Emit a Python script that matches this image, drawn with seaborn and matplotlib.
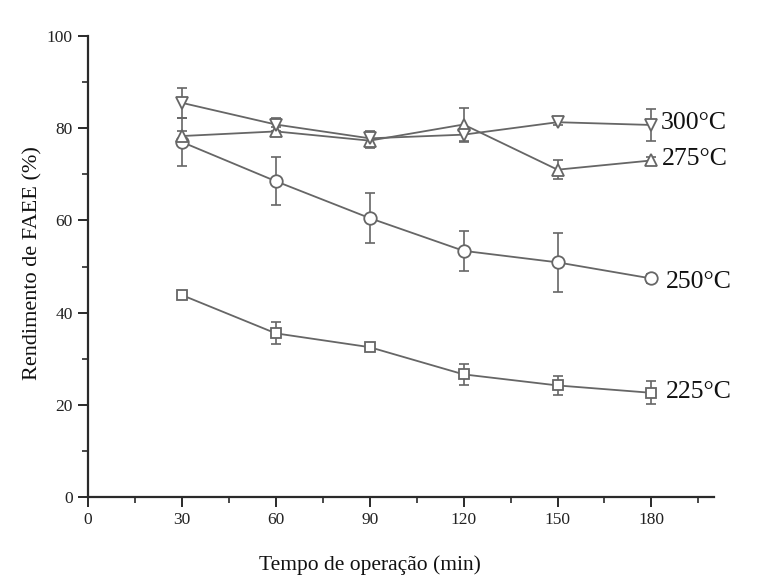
import numpy as np
import pandas as pd
import matplotlib
matplotlib.use("Agg")
import matplotlib.pyplot as plt
import seaborn as sns

# ---- data ----
tempo = [30, 60, 90, 120, 150, 180]
series = ["225°C", "250°C", "275°C", "300°C"]
y225 = [43.8, 35.5, 32.5, 26.6, 24.2, 22.6]
e225 = [0.5, 2.4, 0.7, 2.2, 2.0, 2.5]
y250 = [77.0, 68.5, 60.5, 53.4, 50.9, 47.4]
e250 = [5.3, 5.2, 5.4, 4.3, 6.4, 1.0]
y275 = [78.3, 79.3, 77.3, 80.8, 71.0, 73.0]
e275 = [1.0, 1.0, 1.5, 3.5, 2.0, 0.8]
y300 = [85.5, 80.8, 77.8, 78.6, 81.3, 80.7]
e300 = [3.3, 1.5, 1.5, 1.5, 0.7, 3.5]
label_x = [184.5, 184.5, 183.5, 183.0]
label_y = [22.8, 46.6, 73.3, 81.1]

values = {"225°C": y225, "250°C": y250, "275°C": y275, "300°C": y300}
errors = {"225°C": e225, "250°C": e250, "275°C": e275, "300°C": e300}
markers = {"225°C": "s", "250°C": "o", "275°C": "^", "300°C": "v"}
msizes = {"225°C": 7.5, "250°C": 9, "275°C": 9, "300°C": 9}

df = pd.DataFrame(
    [(t, v, s) for s in series for t, v in zip(tempo, values[s])],
    columns=["tempo", "rendimento", "serie"],
)

sns.set_style("ticks")
plt.rcParams["font.family"] = ["Liberation Serif", "DejaVu Serif"]

gray = "#666666"
fig = plt.figure(figsize=(7.66, 5.82), dpi=100)
ax = fig.add_axes([88 / 766, 85 / 582, 626 / 766, 461 / 582])

for s in series:
    ax.errorbar(tempo, values[s], yerr=errors[s], fmt="none", ecolor=gray,
                elinewidth=1.2, capsize=3.6, capthick=1.2, zorder=1.5)
    sub = df[df["serie"] == s]
    sns.lineplot(data=sub, x="tempo", y="rendimento", ax=ax, color=gray,
                 marker=markers[s], markersize=msizes[s], linewidth=1.3,
                 markerfacecolor="white", markeredgecolor=gray,
                 markeredgewidth=1.3, legend=False, zorder=2)

for s, lx, ly in zip(series, label_x, label_y):
    ax.text(lx, ly, s, fontsize=18.5, va="center", ha="left", color="#111111")

ax.set_xlim(0, 200)
ax.set_ylim(0, 100)
ax.set_xticks([0, 30, 60, 90, 120, 150, 180])
ax.set_xticks([15, 45, 75, 105, 135, 165, 195], minor=True)
ax.set_yticks([0, 20, 40, 60, 80, 100])
ax.set_yticks([10, 30, 50, 70, 90], minor=True)
sns.despine(ax=ax)
for sp in ["left", "bottom"]:
    ax.spines[sp].set_linewidth(1.6)
    ax.spines[sp].set_color("#2a2a2a")
ax.tick_params(which="major", length=7, width=1.4, color="#2a2a2a",
               labelsize=12.5, labelcolor="#222222", pad=4, direction="out")
ax.tick_params(which="minor", length=4, width=1.2, color="#2a2a2a", direction="out")

ax.set_xlabel("Tempo de operação (min)", fontsize=15.5, color="#111111")
ax.set_ylabel("Rendimento de FAEE (%)", fontsize=16, color="#111111")
ax.xaxis.set_label_coords(0.45, -0.126)
ax.yaxis.set_label_coords(-0.072, 0.508)

fig.savefig("out.png", dpi=100)
